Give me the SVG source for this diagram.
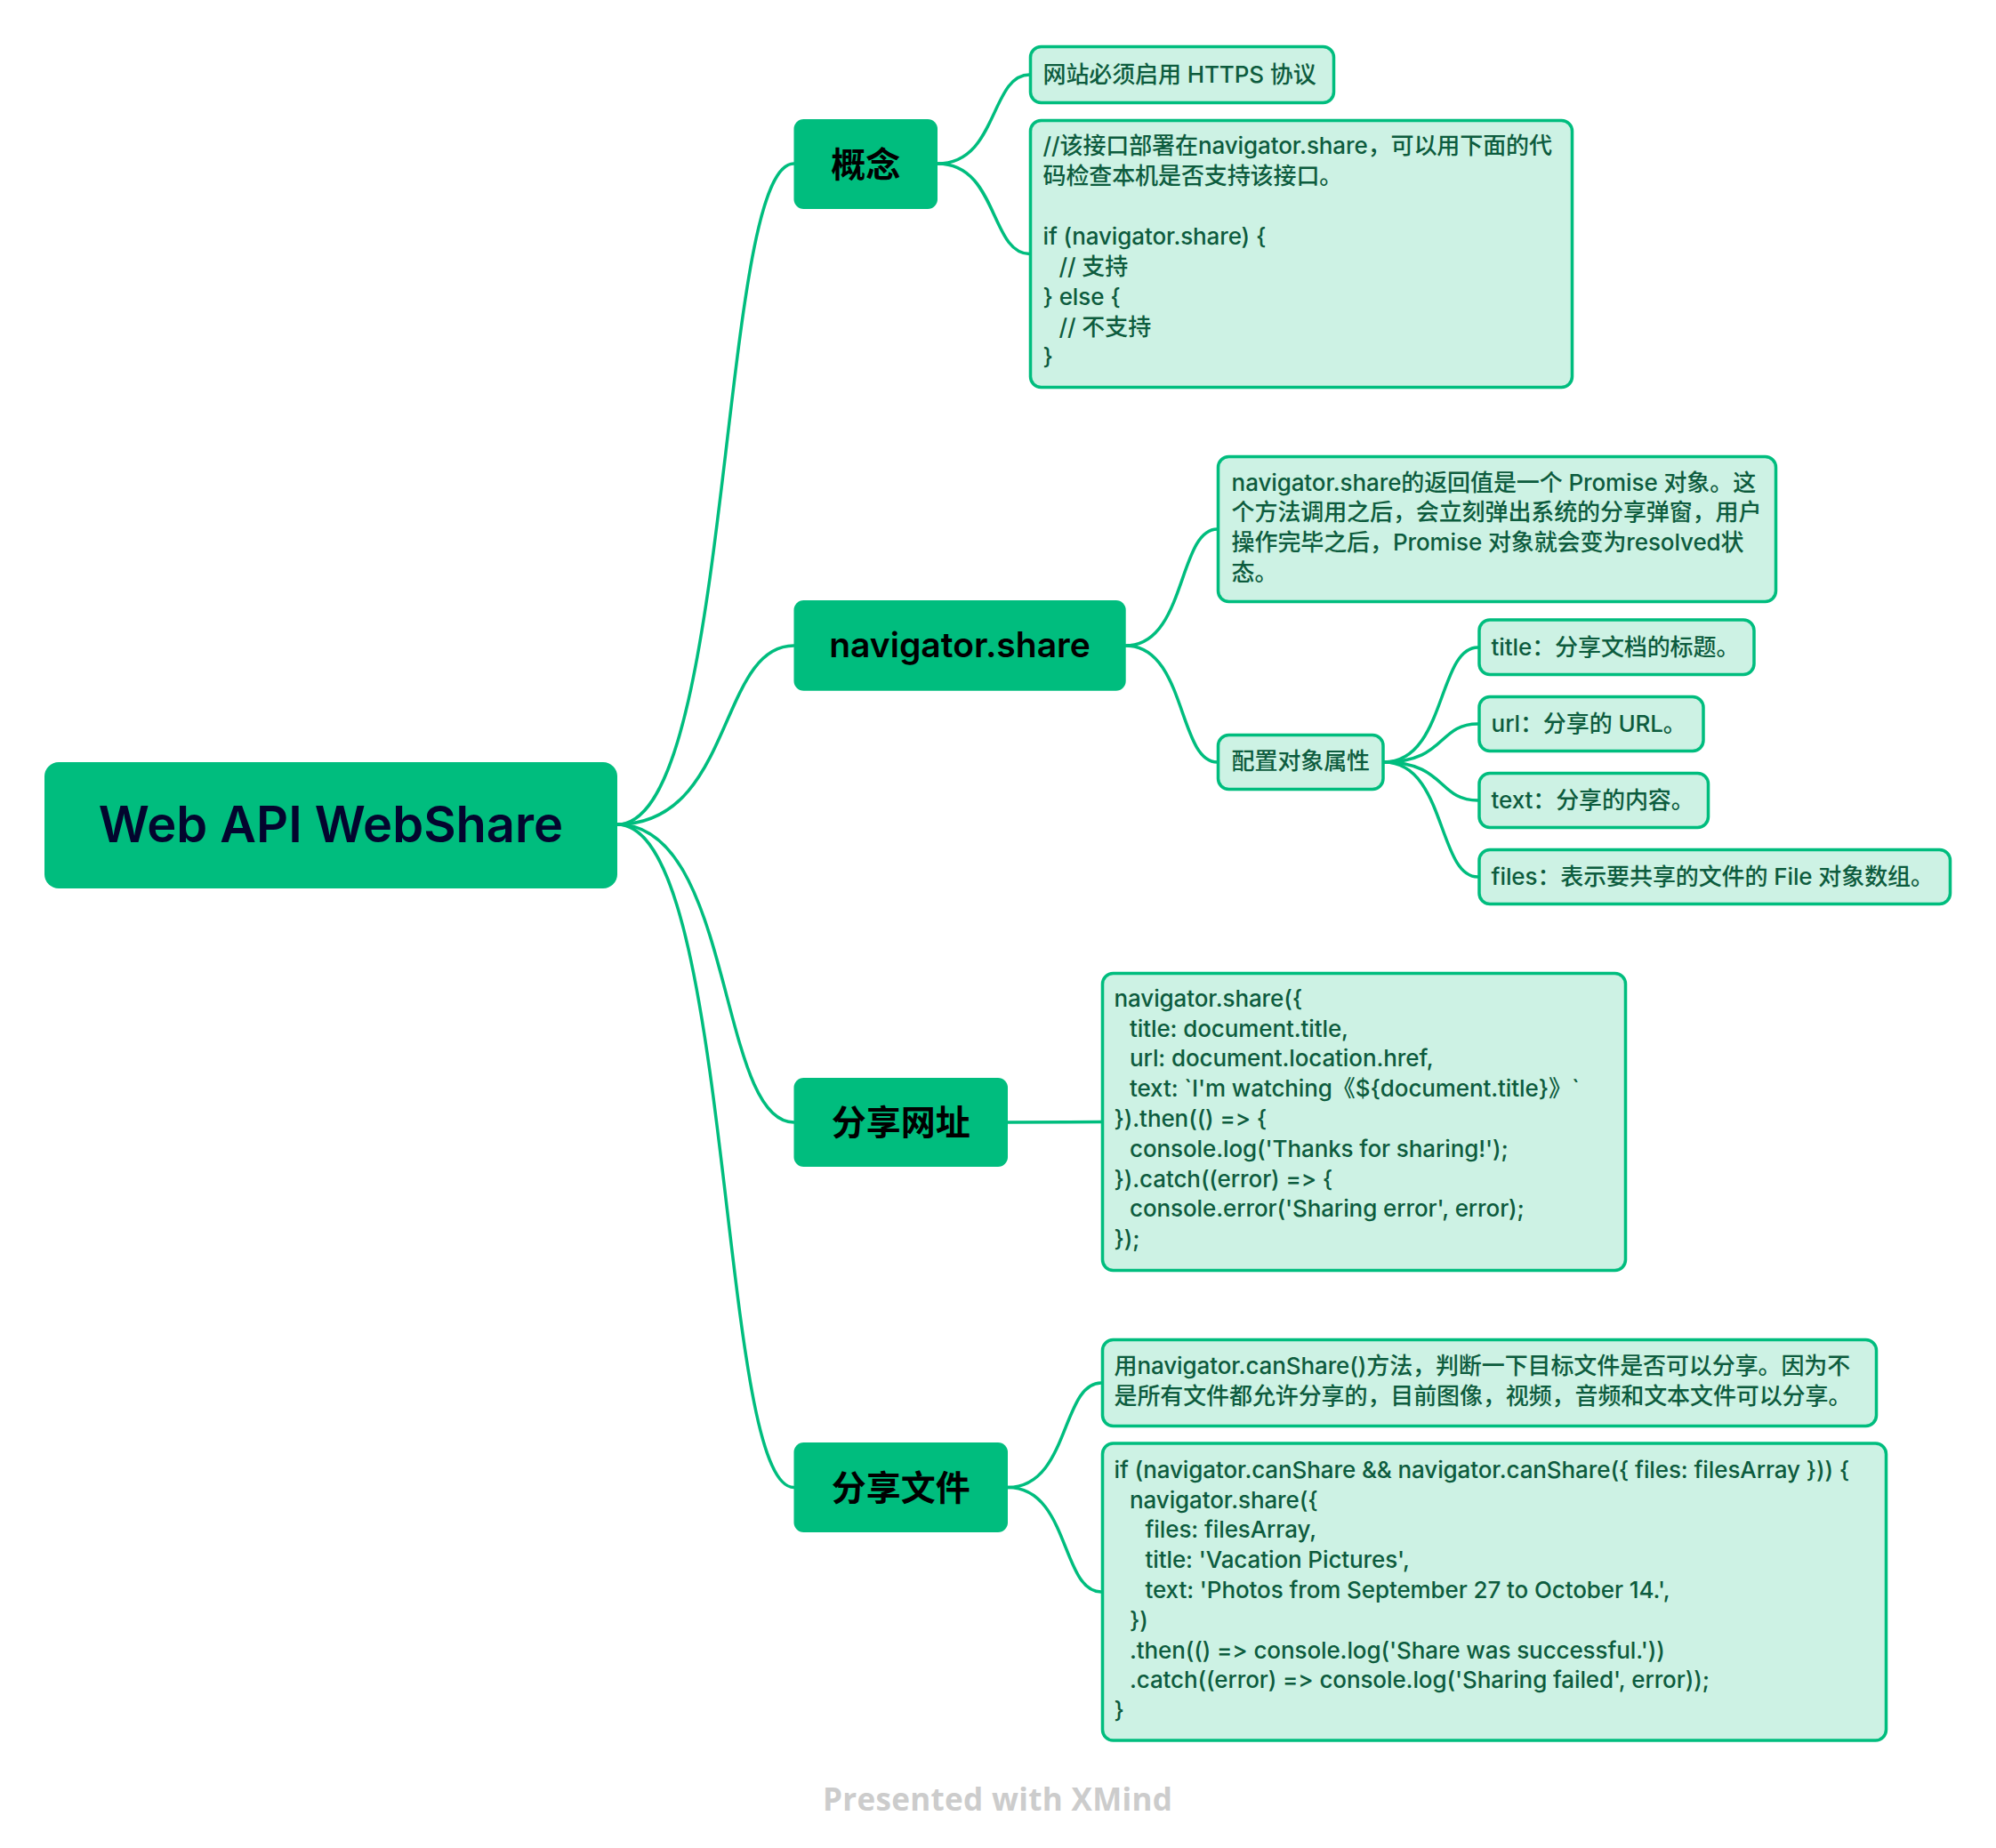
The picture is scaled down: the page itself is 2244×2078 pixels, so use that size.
<svg xmlns="http://www.w3.org/2000/svg" width="2244" height="2078" viewBox="0 0 2244 2078">
<style>
.c{fill:none;stroke:#00bd7e;stroke-width:3.5;stroke-linecap:round}
.root rect{fill:#00bd7e}
.main rect{fill:#00bd7e}
.leaf rect{fill:#cdf2e4;stroke:#00bd7e;stroke-width:3.5}
text{font-family:Inter,"Noto Sans CJK SC",sans-serif;font-feature-settings:"calt" 0}
.rt{font-size:56px;font-weight:600;fill:#03052e;text-anchor:middle}
.mt{font-size:39px;font-weight:600;fill:#000;text-anchor:middle}
.lt{font-size:26px;font-weight:500;fill:#0d5c3e;letter-spacing:-0.1px}
.wm{font-family:"Open Sans","Noto Sans",sans-serif;font-size:35px;font-weight:700;fill:#cccccc}
</style>
<rect width="2244" height="2078" fill="#ffffff"/>
<g id="connectors">
<path class="c" d="M694,927 C825,927 807,184 892.5,184"/>
<path class="c" d="M694,927 C825,927 807,726 892.5,726"/>
<path class="c" d="M694,927 C825,927 807,1262 892.5,1262"/>
<path class="c" d="M694,927 C825,927 807,1672.5 892.5,1672.5"/>
<path class="c" d="M1054,184 C1122,184 1113,84 1157.5,84"/>
<path class="c" d="M1054,184 C1122,184 1113,285.5 1157.5,285.5"/>
<path class="c" d="M1265.7,726 C1333.5,726 1324.3,595 1368.5,595"/>
<path class="c" d="M1265.7,726 C1333.5,726 1324.3,857 1368.5,857"/>
<path class="c" d="M1556,857 C1625.6,857 1616.1,728 1661.5,728"/>
<path class="c" d="M1556,857 C1625.6,857 1616.1,814 1661.5,814"/>
<path class="c" d="M1556,857 C1625.6,857 1616.1,900 1661.5,900"/>
<path class="c" d="M1556,857 C1625.6,857 1616.1,986 1661.5,986"/>
<path class="c" d="M1133,1262 C1202,1262 1193,1261.5 1238,1261.5"/>
<path class="c" d="M1133,1672.5 C1202.3,1672.5 1192.9,1555 1238,1555"/>
<path class="c" d="M1133,1672.5 C1202.3,1672.5 1192.9,1790 1238,1790"/>
</g>
<g id="root" class="root">
<rect x="50" y="857" width="644" height="142" rx="16"/>
<text class="rt" x="372" y="947.3">Web API WebShare</text>
</g>
<g id="n-gainian" class="main">
<rect x="892.5" y="134" width="161.5" height="101" rx="11"/>
<text class="mt" x="973.25" y="199">概念</text>
</g>
<g id="n-navshare" class="main">
<rect x="892.5" y="675" width="373.2" height="101.7" rx="11"/>
<text class="mt" x="1079" y="738.7">navigator.share</text>
</g>
<g id="n-shareurl" class="main">
<rect x="892.5" y="1212" width="240.5" height="100" rx="11"/>
<text class="mt" x="1012.75" y="1275.5">分享网址</text>
</g>
<g id="n-sharefile" class="main">
<rect x="892.5" y="1622" width="240.5" height="101" rx="11"/>
<text class="mt" x="1012.75" y="1687">分享文件</text>
</g>
<g id="l-https" class="leaf">
<rect x="1158.5" y="52.5" width="341" height="63" rx="12"/>
<text class="lt" x="1172.5" y="92.5">网站必须启用 HTTPS 协议</text>
</g>
<g id="l-check" class="leaf">
<rect x="1158.5" y="135.5" width="609" height="300" rx="12"/>
<text class="lt"><tspan x="1172.5" y="173.3">//该接口部署在navigator.share，可以用下面的代</tspan><tspan x="1172.5" y="207.2">码检查本机是否支持该接口。</tspan><tspan x="1172.5" y="275">if (navigator.share) {</tspan><tspan x="1190.5" y="308.9">// 支持</tspan><tspan x="1172.5" y="342.7">} else {</tspan><tspan x="1190.5" y="376.6">// 不支持</tspan><tspan x="1172.5" y="410.4">}</tspan></text>
</g>
<g id="l-promise" class="leaf">
<rect x="1369.5" y="513.5" width="627" height="163" rx="12"/>
<text class="lt"><tspan x="1384.6" y="551.5">navigator.share的返回值是一个 Promise 对象。这</tspan><tspan x="1384.6" y="585.3">个方法调用之后，会立刻弹出系统的分享弹窗，用户</tspan><tspan x="1384.6" y="619.1">操作完毕之后，Promise 对象就会变为resolved状</tspan><tspan x="1384.6" y="652.9">态。</tspan></text>
</g>
<g id="l-config" class="leaf">
<rect x="1369.5" y="826.5" width="185.5" height="61" rx="12"/>
<text class="lt" x="1384.6" y="864.7">配置对象属性</text>
</g>
<g id="l-title" class="leaf">
<rect x="1663" y="697" width="309" height="61.5" rx="12"/>
<text class="lt" x="1676.6" y="736.8">title：分享文档的标题。</text>
</g>
<g id="l-url" class="leaf">
<rect x="1663" y="783.5" width="252" height="61" rx="12"/>
<text class="lt" x="1676.6" y="823">url：分享的 URL。</text>
</g>
<g id="l-text" class="leaf">
<rect x="1663" y="869.5" width="257.5" height="61" rx="12"/>
<text class="lt" x="1676.6" y="909">text：分享的内容。</text>
</g>
<g id="l-files" class="leaf">
<rect x="1663" y="955.5" width="529.5" height="61" rx="12"/>
<text class="lt" x="1676.6" y="995">files：表示要共享的文件的 File 对象数组。</text>
</g>
<g id="l-urlcode" class="leaf">
<rect x="1239.5" y="1094.5" width="588" height="334" rx="12"/>
<text class="lt"><tspan x="1252.5" y="1131.8">navigator.share({</tspan><tspan x="1270" y="1165.6">title: document.title,</tspan><tspan x="1270" y="1199.4">url: document.location.href,</tspan><tspan x="1270" y="1233.2">text: `I'm watching《${document.title}》`</tspan><tspan x="1252.5" y="1267">}).then(() =&gt; {</tspan><tspan x="1270" y="1300.8">console.log('Thanks for sharing!');</tspan><tspan x="1252.5" y="1334.6">}).catch((error) =&gt; {</tspan><tspan x="1270" y="1368.4">console.error('Sharing error', error);</tspan><tspan x="1252.5" y="1402.2">});</tspan></text>
</g>
<g id="l-canshare" class="leaf">
<rect x="1239.5" y="1506.5" width="870" height="97" rx="12"/>
<text class="lt"><tspan x="1252.5" y="1545">用navigator.canShare()方法，判断一下目标文件是否可以分享。因为不</tspan><tspan x="1252.5" y="1579">是所有文件都允许分享的，目前图像，视频，音频和文本文件可以分享。</tspan></text>
</g>
<g id="l-filecode" class="leaf">
<rect x="1239.5" y="1623" width="881" height="334" rx="12"/>
<text class="lt"><tspan x="1252.5" y="1661.7">if (navigator.canShare &amp;&amp; navigator.canShare({ files: filesArray })) {</tspan><tspan x="1270" y="1695.5">navigator.share({</tspan><tspan x="1287.5" y="1729.3">files: filesArray,</tspan><tspan x="1287.5" y="1763.1">title: 'Vacation Pictures',</tspan><tspan x="1287.5" y="1796.9">text: 'Photos from September 27 to October 14.',</tspan><tspan x="1270" y="1830.7">})</tspan><tspan x="1270" y="1864.5">.then(() =&gt; console.log('Share was successful.'))</tspan><tspan x="1270" y="1898.3">.catch((error) =&gt; console.log('Sharing failed', error));</tspan><tspan x="1252.5" y="1932.1">}</tspan></text>
</g>
<text class="wm" x="925" y="2036" textLength="393">Presented with XMind</text>
</svg>
